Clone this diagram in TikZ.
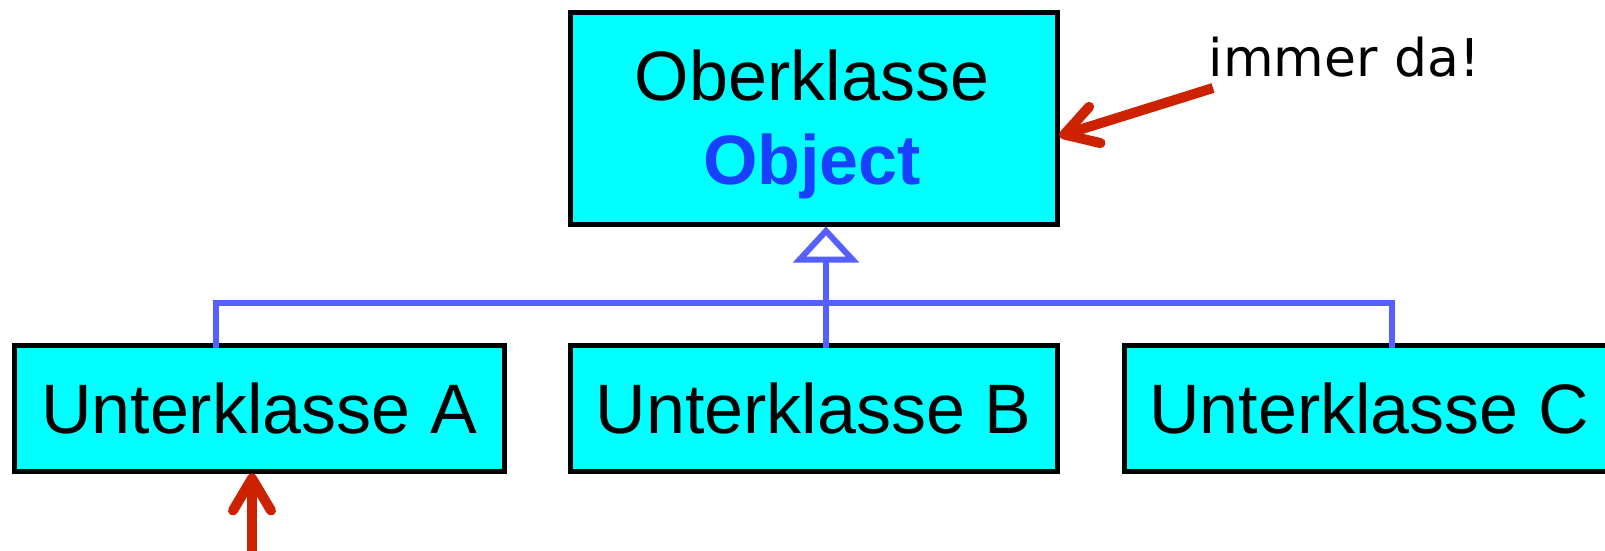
\documentclass[tikz,border=0pt]{standalone}
\usepackage{fontspec}
\setmainfont{Liberation Sans}
\newfontfamily\dejavu{DejaVu Sans}
\usetikzlibrary{arrows.meta}
\definecolor{boxcyan}{RGB}{0,255,255}
\definecolor{umlblue}{RGB}{85,96,255}
\definecolor{objblue}{RGB}{26,64,255}
\definecolor{notered}{RGB}{204,34,0}
\tikzset{
  clsbox/.style={draw=black, line width=5pt, fill=boxcyan, rectangle, inner sep=0pt,
    minimum height=126pt, font=\fontsize{70}{84}\selectfont},
  umlline/.style={draw=umlblue, line width=6pt},
  redarrow/.style={draw=notered, line width=10pt,
    -{Straight Barb[length=32pt,width=38pt,round]}},
}
\begin{document}
\begin{tikzpicture}[x=1pt,y=-1pt]
\useasboundingbox (0,0) rectangle (1605,551);
\clip (0,0) rectangle (1605,551);
% boxes
\node[clsbox, minimum width=487pt, minimum height=211pt] (top) at (813.5,118.5) {};
\node[anchor=base, font=\fontsize{70}{84}\selectfont] (topname) at (812,100) {Oberklasse};
\node[anchor=base, font=\fontsize{70}{84}\selectfont\bfseries, text=objblue] (topobj) at (812,184) {Object};
\node[clsbox, minimum width=490pt] (A) at (259,408) {Unterklasse A};
\node[clsbox, minimum width=487pt] (B) at (813.5,408) {Unterklasse B};
\node[clsbox, minimum width=490pt] (C) at (1369,408) {Unterklasse C};
% inheritance connectors
\coordinate (aj) at (216,303);
\coordinate (hub) at (826,303);
\coordinate (cj) at (1392,303);
\draw[umlline] ([yshift=-5pt]A.north -| aj) -- (aj) -- (cj) -- ([yshift=-5pt]C.north -| cj);
\draw[umlline] ([yshift=-5pt]B.north -| hub) -- (hub);
\draw[umlline, -{Triangle[open,length=36pt,width=65pt,fill=white]}] (hub) -- (top.south -| hub);
% note
\node[anchor=base west, font=\dejavu\fontsize{52}{60}\selectfont] (note) at (1205,77) {immer da!};
\coordinate (notetail) at (1213,88);
\draw[redarrow] (notetail) -- ([yshift=-17.5pt]top.east);
\coordinate (atail) at (252,575);
\draw[redarrow] (atail) -- (A.south -| atail);
\end{tikzpicture}
\end{document}
